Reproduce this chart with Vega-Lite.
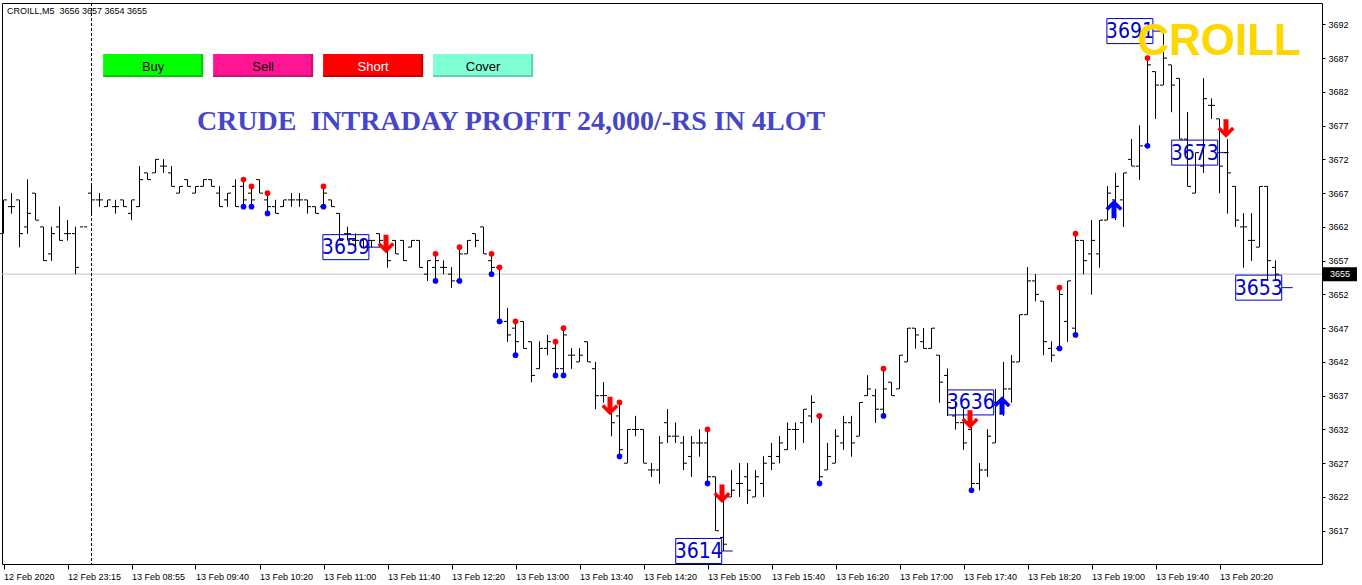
{
"$schema": "https://vega.github.io/schema/vega-lite/v6.json",
"width": 1320, "height": 561,
"autosize": {"type": "none"},
"padding": {"left": 2, "top": 3, "right": 40, "bottom": 21},
"background": "white",
"config": {"view": {"stroke": "black", "strokeWidth": 1}, "font": "Liberation Sans", "axis": {"labelOverlap": false}},
"resolve": {"scale": {"color": "independent", "shape": "independent"}},
"datasets": {
"bars": [
{"i":0,"o":3661,"h":3666,"l":3661,"c":3666},{"i":1,"o":3665,"h":3667,"l":3664,"c":3665},{"i":2,"o":3666,"h":3666,"l":3659,"c":3661},{"i":3,"o":3662,"h":3669,"l":3661,"c":3664},{"i":4,"o":3667,"h":3667,"l":3663,"c":3663},
{"i":5,"o":3662,"h":3662,"l":3657,"c":3657},{"i":6,"o":3658,"h":3662,"l":3657,"c":3661},{"i":7,"o":3662,"h":3665,"l":3660,"c":3660},{"i":8,"o":3661,"h":3663,"l":3660,"c":3661},{"i":9,"o":3661,"h":3662,"l":3655,"c":3656},
{"i":10,"o":3662,"h":3662,"l":3662,"c":3662},{"i":11,"o":3667,"h":3668,"l":3664,"c":3666},{"i":12,"o":3666,"h":3667,"l":3665,"c":3666},{"i":13,"o":3665,"h":3666,"l":3665,"c":3666},{"i":14,"o":3665,"h":3666,"l":3664,"c":3665},
{"i":15,"o":3666,"h":3666,"l":3665,"c":3665},{"i":16,"o":3664,"h":3666,"l":3663,"c":3666},{"i":17,"o":3665,"h":3671,"l":3665,"c":3669},{"i":18,"o":3670,"h":3670,"l":3669,"c":3669},{"i":19,"o":3670,"h":3672,"l":3670,"c":3672},
{"i":20,"o":3671,"h":3672,"l":3670,"c":3671},{"i":21,"o":3670,"h":3671,"l":3668,"c":3668},{"i":22,"o":3667,"h":3668,"l":3667,"c":3668},{"i":23,"o":3669,"h":3669,"l":3668,"c":3668},{"i":24,"o":3667,"h":3668,"l":3667,"c":3668},
{"i":25,"o":3668,"h":3669,"l":3668,"c":3669},{"i":26,"o":3669,"h":3669,"l":3668,"c":3668},{"i":27,"o":3667,"h":3668,"l":3665,"c":3665},{"i":28,"o":3666,"h":3667,"l":3665,"c":3667},{"i":29,"o":3668,"h":3669,"l":3665,"c":3665},
{"i":30,"o":3668,"h":3669,"l":3665,"c":3666},{"i":31,"o":3667,"h":3668,"l":3665,"c":3666},{"i":32,"o":3669,"h":3669,"l":3667,"c":3667},{"i":33,"o":3666,"h":3667,"l":3664,"c":3665},{"i":34,"o":3665,"h":3666,"l":3664,"c":3664},
{"i":35,"o":3665,"h":3666,"l":3665,"c":3666},{"i":36,"o":3666,"h":3667,"l":3665,"c":3666},{"i":37,"o":3666,"h":3667,"l":3665,"c":3666},{"i":38,"o":3666,"h":3666,"l":3664,"c":3665},{"i":39,"o":3665,"h":3665,"l":3664,"c":3664},
{"i":40,"o":3665,"h":3668,"l":3665,"c":3667},{"i":41,"o":3666,"h":3666,"l":3665,"c":3665},{"i":42,"o":3664,"h":3664,"l":3660,"c":3660},{"i":43,"o":3661,"h":3662,"l":3660,"c":3661},{"i":44,"o":3660,"h":3661,"l":3659,"c":3660},
{"i":45,"o":3660,"h":3660,"l":3659,"c":3659},{"i":46,"o":3660,"h":3660,"l":3659,"c":3660},{"i":47,"o":3661,"h":3661,"l":3659,"c":3660},{"i":48,"o":3660,"h":3660,"l":3656,"c":3657},{"i":49,"o":3660,"h":3660,"l":3658,"c":3658},
{"i":50,"o":3660,"h":3660,"l":3657,"c":3657},{"i":51,"o":3659,"h":3660,"l":3659,"c":3660},{"i":52,"o":3660,"h":3660,"l":3656,"c":3656},{"i":53,"o":3655,"h":3657,"l":3654,"c":3657},{"i":54,"o":3656,"h":3658,"l":3654,"c":3657},
{"i":55,"o":3656,"h":3657,"l":3655,"c":3656},{"i":56,"o":3655,"h":3656,"l":3653,"c":3654},{"i":57,"o":3654,"h":3659,"l":3654,"c":3658},{"i":58,"o":3658,"h":3660,"l":3658,"c":3660},{"i":59,"o":3661,"h":3661,"l":3659,"c":3660},
{"i":60,"o":3662,"h":3662,"l":3658,"c":3658},{"i":61,"o":3657,"h":3658,"l":3655,"c":3656},{"i":62,"o":3656,"h":3656,"l":3648,"c":3648},{"i":63,"o":3648,"h":3650,"l":3645,"c":3646},{"i":64,"o":3647,"h":3648,"l":3643,"c":3645},
{"i":65,"o":3648,"h":3648,"l":3644,"c":3644},{"i":66,"o":3645,"h":3645,"l":3639,"c":3640},{"i":67,"o":3641,"h":3645,"l":3641,"c":3644},{"i":68,"o":3644,"h":3646,"l":3643,"c":3645},{"i":69,"o":3644,"h":3645,"l":3640,"c":3641},
{"i":70,"o":3641,"h":3647,"l":3640,"c":3646},{"i":71,"o":3643,"h":3644,"l":3641,"c":3643},{"i":72,"o":3642,"h":3644,"l":3642,"c":3643},{"i":73,"o":3645,"h":3645,"l":3642,"c":3642},{"i":74,"o":3641,"h":3642,"l":3635,"c":3637},
{"i":75,"o":3637,"h":3639,"l":3636,"c":3637},{"i":76,"o":3636,"h":3636,"l":3631,"c":3633},{"i":77,"o":3634,"h":3636,"l":3628,"c":3629},{"i":78,"o":3627,"h":3632,"l":3627,"c":3632},{"i":79,"o":3632,"h":3634,"l":3631,"c":3632},
{"i":80,"o":3632,"h":3632,"l":3627,"c":3627},{"i":81,"o":3626,"h":3627,"l":3625,"c":3626},{"i":82,"o":3626,"h":3631,"l":3624,"c":3630},{"i":83,"o":3633,"h":3635,"l":3630,"c":3631},{"i":84,"o":3631,"h":3633,"l":3630,"c":3631},
{"i":85,"o":3630,"h":3631,"l":3626,"c":3627},{"i":86,"o":3628,"h":3631,"l":3625,"c":3630},{"i":87,"o":3630,"h":3632,"l":3628,"c":3630},{"i":88,"o":3630,"h":3632,"l":3624,"c":3625},{"i":89,"o":3625,"h":3625,"l":3617,"c":3617},
{"i":90,"o":3616,"h":3622,"l":3614,"c":3615},{"i":91,"o":3622,"h":3626,"l":3622,"c":3623},{"i":92,"o":3624,"h":3627,"l":3622,"c":3624},{"i":93,"o":3625,"h":3627,"l":3621,"c":3623},{"i":94,"o":3622,"h":3626,"l":3622,"c":3625},
{"i":95,"o":3624,"h":3628,"l":3622,"c":3627},{"i":96,"o":3628,"h":3630,"l":3626,"c":3627},{"i":97,"o":3628,"h":3631,"l":3627,"c":3630},{"i":98,"o":3629,"h":3633,"l":3629,"c":3632},{"i":99,"o":3632,"h":3633,"l":3629,"c":3632},
{"i":100,"o":3633,"h":3635,"l":3630,"c":3635},{"i":101,"o":3634,"h":3637,"l":3633,"c":3636},{"i":102,"o":3634,"h":3634,"l":3624,"c":3625},{"i":103,"o":3626,"h":3630,"l":3626,"c":3628},{"i":104,"o":3627,"h":3632,"l":3627,"c":3631},
{"i":105,"o":3630,"h":3634,"l":3629,"c":3633},{"i":106,"o":3633,"h":3634,"l":3628,"c":3630},{"i":107,"o":3631,"h":3636,"l":3631,"c":3636},{"i":108,"o":3637,"h":3640,"l":3637,"c":3638},{"i":109,"o":3637,"h":3638,"l":3633,"c":3635},
{"i":110,"o":3635,"h":3641,"l":3634,"c":3638},{"i":111,"o":3639,"h":3639,"l":3637,"c":3637},{"i":112,"o":3638,"h":3643,"l":3638,"c":3643},{"i":113,"o":3642,"h":3647,"l":3642,"c":3647},{"i":114,"o":3647,"h":3647,"l":3644,"c":3646},
{"i":115,"o":3645,"h":3647,"l":3644,"c":3644},{"i":116,"o":3644,"h":3647,"l":3644,"c":3647},{"i":117,"o":3643,"h":3643,"l":3636,"c":3639},{"i":118,"o":3640,"h":3641,"l":3634,"c":3636},{"i":119,"o":3634,"h":3636,"l":3632,"c":3633},
{"i":120,"o":3633,"h":3635,"l":3629,"c":3630},{"i":121,"o":3632,"h":3633,"l":3623,"c":3624},{"i":122,"o":3624,"h":3627,"l":3623,"c":3626},{"i":123,"o":3626,"h":3632,"l":3625,"c":3631},{"i":124,"o":3630,"h":3638,"l":3630,"c":3636},
{"i":125,"o":3636,"h":3642,"l":3634,"c":3638},{"i":126,"o":3638,"h":3643,"l":3636,"c":3642},{"i":127,"o":3642,"h":3649,"l":3642,"c":3649},{"i":128,"o":3649,"h":3656,"l":3649,"c":3654},{"i":129,"o":3654,"h":3655,"l":3651,"c":3652},
{"i":130,"o":3651,"h":3651,"l":3643,"c":3645},{"i":131,"o":3644,"h":3645,"l":3642,"c":3643},{"i":132,"o":3644,"h":3653,"l":3644,"c":3652},{"i":133,"o":3648,"h":3654,"l":3645,"c":3654},{"i":134,"o":3647,"h":3661,"l":3646,"c":3660},
{"i":135,"o":3660,"h":3660,"l":3655,"c":3657},{"i":136,"o":3658,"h":3663,"l":3652,"c":3660},{"i":137,"o":3658,"h":3663,"l":3656,"c":3663},{"i":138,"o":3663,"h":3668,"l":3663,"c":3667},{"i":139,"o":3666,"h":3670,"l":3663,"c":3668},
{"i":140,"o":3666,"h":3670,"l":3662,"c":3670},{"i":141,"o":3672,"h":3675,"l":3671,"c":3671},{"i":142,"o":3671,"h":3677,"l":3669,"c":3674},{"i":143,"o":3674,"h":3687,"l":3674,"c":3686},{"i":144,"o":3685,"h":3685,"l":3678,"c":3683},
{"i":145,"o":3683,"h":3691,"l":3683,"c":3687},{"i":146,"o":3686,"h":3686,"l":3679,"c":3683},{"i":147,"o":3684,"h":3684,"l":3675,"c":3675},{"i":148,"o":3675,"h":3679,"l":3668,"c":3668},{"i":149,"o":3667,"h":3673,"l":3667,"c":3673},
{"i":150,"o":3671,"h":3684,"l":3670,"c":3681},{"i":151,"o":3680,"h":3681,"l":3678,"c":3680},{"i":152,"o":3678,"h":3678,"l":3667,"c":3671},{"i":153,"o":3673,"h":3675,"l":3664,"c":3670},{"i":154,"o":3668,"h":3668,"l":3662,"c":3663},
{"i":155,"o":3662,"h":3664,"l":3656,"c":3662},{"i":156,"o":3660,"h":3664,"l":3657,"c":3660},{"i":157,"o":3659,"h":3668,"l":3659,"c":3668},{"i":158,"o":3668,"h":3668,"l":3654,"c":3657},{"i":159,"o":3656,"h":3657,"l":3654,"c":3655}
],
"dots": [
{"i":30,"p":3669,"side":"high"},{"i":31,"p":3668,"side":"high"},{"i":33,"p":3667,"side":"high"},{"i":40,"p":3668,"side":"high"},{"i":54,"p":3658,"side":"high"},{"i":57,"p":3659,"side":"high"},{"i":61,"p":3658,"side":"high"},{"i":62,"p":3656,"side":"high"},{"i":64,"p":3648,"side":"high"},{"i":69,"p":3645,"side":"high"},{"i":70,"p":3647,"side":"high"},{"i":77,"p":3636,"side":"high"},{"i":88,"p":3632,"side":"high"},{"i":102,"p":3634,"side":"high"},{"i":110,"p":3641,"side":"high"},{"i":132,"p":3653,"side":"high"},{"i":134,"p":3661,"side":"high"},{"i":143,"p":3687,"side":"high"},
{"i":30,"p":3665,"side":"low"},{"i":31,"p":3665,"side":"low"},{"i":33,"p":3664,"side":"low"},{"i":40,"p":3665,"side":"low"},{"i":54,"p":3654,"side":"low"},{"i":57,"p":3654,"side":"low"},{"i":61,"p":3655,"side":"low"},{"i":62,"p":3648,"side":"low"},{"i":64,"p":3643,"side":"low"},{"i":69,"p":3640,"side":"low"},{"i":70,"p":3640,"side":"low"},{"i":77,"p":3628,"side":"low"},{"i":88,"p":3624,"side":"low"},{"i":102,"p":3624,"side":"low"},{"i":110,"p":3634,"side":"low"},{"i":121,"p":3623,"side":"low"},{"i":132,"p":3644,"side":"low"},{"i":134,"p":3646,"side":"low"},{"i":143,"p":3674,"side":"low"}
],
"arrows": [
{"i":48,"p":3659.5,"dir":"down"},{"i":76,"p":3635.5,"dir":"down"},{"i":90,"p":3622.5,"dir":"down"},{"i":121,"p":3633.5,"dir":"down"},{"i":153,"p":3676.6,"dir":"down"},
{"i":125,"p":3635.5,"dir":"up"},{"i":139,"p":3664.6,"dir":"up"}
],
"labels": [
{"i":42.8,"p":3659,"label":"3659"},{"i":86.9,"p":3614,"label":"3614"},{"i":120.9,"p":3636,"label":"3636"},{"i":140.8,"p":3691,"label":"3691"},{"i":148.9,"p":3673,"label":"3673"},{"i":156.9,"p":3653,"label":"3653"}
],
"buttons": [
{"i":18.7,"p":3685.9,"label":"Buy"},{"i":32.45,"p":3685.9,"label":"Sell"},{"i":46.2,"p":3685.9,"label":"Short"},{"i":59.95,"p":3685.9,"label":"Cover"}
]
},
"layer": [
{
"data": {"name": "bars"},
"mark": {"type": "rule", "color": "black", "strokeWidth": 1},
"encoding": {
"x": {"field": "i", "type": "quantitative", "title": null, "scale": {"domain": [-0.1875, 164.8125], "nice": false, "zero": false},
"axis": {"orient": "bottom", "values": [0,8,16,24,32,40,48,56,64,72,80,88,96,104,112,120,128,136,144,152], "tickCount": 40, "labelExpr": "['12 Feb 2020','12 Feb 23:15','13 Feb 08:55','13 Feb 09:40','13 Feb 10:20','13 Feb 11:00','13 Feb 11:40','13 Feb 12:20','13 Feb 13:00','13 Feb 13:40','13 Feb 14:20','13 Feb 15:00','13 Feb 15:40','13 Feb 16:20','13 Feb 17:00','13 Feb 17:40','13 Feb 18:20','13 Feb 19:00','13 Feb 19:40','13 Feb 20:20'][round(datum.value/8)]", "grid": false, "domain": false, "ticks": true, "tickColor": "black", "tickSize": 5, "labelAlign": "left", "labelDx": -1, "labelPadding": 3, "labelFont": "Liberation Sans", "labelFontSize": 9, "labelColor": "black", "labelOverlap": false, "labelFlush": false, "labelBound": false, "title": null}},
"y": {"field": "l", "type": "quantitative", "title": null, "scale": {"domain": [3612.07, 3695.16], "nice": false, "zero": false},
"axis": {"orient": "right", "values": [3617,3622,3627,3632,3637,3642,3647,3652,3657,3662,3667,3672,3677,3682,3687,3692], "tickCount": 40, "format": "d", "grid": false, "domain": false, "tickColor": "black", "tickSize": 3, "labelPadding": 3, "labelFont": "Liberation Sans", "labelFontSize": 9, "labelColor": "black", "labelOverlap": false, "labelFlush": false, "labelBound": false, "title": null}},
"y2": {"field": "h"}
}
},
{
"data": {"values": [{"p": 3655}]},
"mark": {"type": "rule", "color": "#c0c0c0", "strokeWidth": 1},
"encoding": {"y": {"field": "p", "type": "quantitative", "title": null, "scale": {"domain": [3612.07, 3695.16], "nice": false, "zero": false}}}
},
{
"data": {"values": [{"i": 11}]},
"mark": {"type": "rule", "color": "black", "strokeWidth": 1, "strokeDash": [3, 2]},
"encoding": {"x": {"field": "i", "type": "quantitative", "title": null, "scale": {"domain": [-0.1875, 164.8125], "nice": false, "zero": false}}}
},
{
"data": {"name": "labels"},
"mark": {"type": "point", "shape": "M-23,-12.5L23,-12.5L23,12.5L-23,12.5Z M23,0L34,0", "size": 4, "filled": false, "stroke": "#0000CD", "strokeWidth": 1, "opacity": 1},
"encoding": {
"x": {"field": "i", "type": "quantitative", "title": null, "scale": {"domain": [-0.1875, 164.8125], "nice": false, "zero": false}},
"y": {"field": "p", "type": "quantitative", "title": null, "scale": {"domain": [3612.07, 3695.16], "nice": false, "zero": false}}
}
},
{
"data": {"name": "bars"},
"mark": {"type": "rule", "color": "black", "strokeWidth": 1},
"encoding": {
"x": {"field": "i", "type": "quantitative", "title": null, "scale": {"domain": [-0.1875, 164.8125], "nice": false, "zero": false}},
"y": {"field": "l", "type": "quantitative", "title": null, "scale": {"domain": [3612.07, 3695.16], "nice": false, "zero": false}},
"y2": {"field": "h"}
}
},
{
"data": {"name": "bars"},
"mark": {"type": "tick", "orient": "horizontal", "color": "black", "size": 3, "thickness": 1, "xOffset": -2, "opacity": 1},
"encoding": {
"x": {"field": "i", "type": "quantitative", "title": null, "scale": {"domain": [-0.1875, 164.8125], "nice": false, "zero": false}},
"y": {"field": "o", "type": "quantitative", "title": null, "scale": {"domain": [3612.07, 3695.16], "nice": false, "zero": false}}
}
},
{
"data": {"name": "bars"},
"mark": {"type": "tick", "orient": "horizontal", "color": "black", "size": 3, "thickness": 1, "xOffset": 2, "opacity": 1},
"encoding": {
"x": {"field": "i", "type": "quantitative", "title": null, "scale": {"domain": [-0.1875, 164.8125], "nice": false, "zero": false}},
"y": {"field": "c", "type": "quantitative", "title": null, "scale": {"domain": [3612.07, 3695.16], "nice": false, "zero": false}}
}
},
{
"data": {"name": "labels"},
"mark": {"type": "text", "font": "DejaVu Sans Condensed, Liberation Sans", "fontSize": 21, "color": "#0000CD", "align": "center", "baseline": "middle", "dy": 1},
"encoding": {
"x": {"field": "i", "type": "quantitative", "title": null, "scale": {"domain": [-0.1875, 164.8125], "nice": false, "zero": false}},
"y": {"field": "p", "type": "quantitative", "title": null, "scale": {"domain": [3612.07, 3695.16], "nice": false, "zero": false}},
"text": {"field": "label"}
}
},
{
"data": {"name": "dots"},
"mark": {"type": "point", "shape": "circle", "filled": true, "size": 32, "opacity": 1},
"encoding": {
"x": {"field": "i", "type": "quantitative", "title": null, "scale": {"domain": [-0.1875, 164.8125], "nice": false, "zero": false}},
"y": {"field": "p", "type": "quantitative", "title": null, "scale": {"domain": [3612.07, 3695.16], "nice": false, "zero": false}},
"color": {"field": "side", "type": "nominal", "scale": {"domain": ["high", "low"], "range": ["#ff0000", "#0000ff"]}, "legend": null}
}
},
{
"data": {"name": "arrows"},
"mark": {"type": "point", "filled": true, "size": 4, "opacity": 1, "xOffset": -1.5},
"encoding": {
"x": {"field": "i", "type": "quantitative", "title": null, "scale": {"domain": [-0.1875, 164.8125], "nice": false, "zero": false}},
"y": {"field": "p", "type": "quantitative", "title": null, "scale": {"domain": [3612.07, 3695.16], "nice": false, "zero": false}},
"shape": {"field": "dir", "type": "nominal", "scale": {"domain": ["down", "up"], "range": ["M-2.5,-9L2.5,-9L2.5,2L6,-1.5L8.5,1L0,9.5L-8.5,1L-6,-1.5L-2.5,2Z", "M-2.5,9L2.5,9L2.5,-2L6,1.5L8.5,-1L0,-9.5L-8.5,-1L-6,1.5L-2.5,-2Z"]}, "legend": null},
"color": {"field": "dir", "type": "nominal", "scale": {"domain": ["down", "up"], "range": ["#ff0000", "#0000ff"]}, "legend": null}
}
},
{
"data": {"name": "buttons"},
"mark": {"type": "point", "shape": "M-50,-11.5L50,-11.5L50,11.5L-50,11.5Z", "filled": true, "size": 4, "opacity": 1},
"encoding": {
"x": {"field": "i", "type": "quantitative", "title": null, "scale": {"domain": [-0.1875, 164.8125], "nice": false, "zero": false}},
"y": {"field": "p", "type": "quantitative", "title": null, "scale": {"domain": [3612.07, 3695.16], "nice": false, "zero": false}},
"color": {"field": "label", "type": "nominal", "scale": {"domain": ["Buy", "Sell", "Short", "Cover"], "range": ["#00ff00", "#ff1493", "#ff0000", "#7fffd4"]}, "legend": null}
}
},
{
"data": {"name": "buttons"},
"mark": {"type": "point", "shape": "M48,-11.5L50,-11.5L50,11.5L-50,11.5L-50,9.5L48,9.5Z", "filled": true, "size": 4, "opacity": 1},
"encoding": {
"x": {"field": "i", "type": "quantitative", "title": null, "scale": {"domain": [-0.1875, 164.8125], "nice": false, "zero": false}},
"y": {"field": "p", "type": "quantitative", "title": null, "scale": {"domain": [3612.07, 3695.16], "nice": false, "zero": false}},
"color": {"field": "label", "type": "nominal", "scale": {"domain": ["Buy", "Sell", "Short", "Cover"], "range": ["#00cc00", "#cc1076", "#cc0000", "#5fd0b0"]}, "legend": null}
}
},
{
"data": {"name": "buttons"},
"mark": {"type": "text", "font": "Liberation Sans", "fontSize": 13, "align": "center", "baseline": "middle", "dy": 1},
"encoding": {
"x": {"field": "i", "type": "quantitative", "title": null, "scale": {"domain": [-0.1875, 164.8125], "nice": false, "zero": false}},
"y": {"field": "p", "type": "quantitative", "title": null, "scale": {"domain": [3612.07, 3695.16], "nice": false, "zero": false}},
"text": {"field": "label"},
"color": {"field": "label", "type": "nominal", "scale": {"domain": ["Buy", "Sell", "Short", "Cover"], "range": ["#000000", "#000000", "#ffffff", "#000000"]}, "legend": null}
}
},
{
"data": {"values": [{"i": 63.44, "p": 3677.6, "t": "CRUDE\u00a0 INTRADAY PROFIT 24,000/-RS IN 4LOT"}]},
"mark": {"type": "text", "font": "Liberation Serif", "fontWeight": "bold", "fontSize": 28, "color": "#4646c8", "align": "center", "baseline": "middle"},
"encoding": {
"x": {"field": "i", "type": "quantitative", "title": null, "scale": {"domain": [-0.1875, 164.8125], "nice": false, "zero": false}},
"y": {"field": "p", "type": "quantitative", "title": null, "scale": {"domain": [3612.07, 3695.16], "nice": false, "zero": false}},
"text": {"field": "t"}
}
},
{
"data": {"values": [{"i": 151.94, "p": 3689.45, "t": "CROILL"}]},
"mark": {"type": "text", "font": "Liberation Sans", "fontWeight": "bold", "fontSize": 44, "color": "#ffd700", "align": "center", "baseline": "middle"},
"encoding": {
"x": {"field": "i", "type": "quantitative", "title": null, "scale": {"domain": [-0.1875, 164.8125], "nice": false, "zero": false}},
"y": {"field": "p", "type": "quantitative", "title": null, "scale": {"domain": [3612.07, 3695.16], "nice": false, "zero": false}},
"text": {"field": "t"}
}
},
{
"data": {"values": [{"i": 0.44, "p": 3693.97, "t": "CROILL,M5\u00a0 3656 3657 3654 3655"}]},
"mark": {"type": "text", "font": "Liberation Sans", "fontSize": 9, "color": "black", "align": "left", "baseline": "middle"},
"encoding": {
"x": {"field": "i", "type": "quantitative", "title": null, "scale": {"domain": [-0.1875, 164.8125], "nice": false, "zero": false}},
"y": {"field": "p", "type": "quantitative", "title": null, "scale": {"domain": [3612.07, 3695.16], "nice": false, "zero": false}},
"text": {"field": "t"}
}
},
{
"data": {"values": [{"i": 167.06, "p": 3655}]},
"mark": {"type": "point", "shape": "M-17,-7L17,-7L17,7L-17,7Z", "filled": true, "size": 4, "opacity": 1, "color": "black"},
"encoding": {
"x": {"field": "i", "type": "quantitative", "title": null, "scale": {"domain": [-0.1875, 164.8125], "nice": false, "zero": false}},
"y": {"field": "p", "type": "quantitative", "title": null, "scale": {"domain": [3612.07, 3695.16], "nice": false, "zero": false}}
}
},
{
"data": {"values": [{"i": 167.06, "p": 3655, "t": "3655"}]},
"mark": {"type": "text", "font": "Liberation Sans", "fontSize": 9, "color": "white", "align": "center", "baseline": "middle"},
"encoding": {
"x": {"field": "i", "type": "quantitative", "title": null, "scale": {"domain": [-0.1875, 164.8125], "nice": false, "zero": false}},
"y": {"field": "p", "type": "quantitative", "title": null, "scale": {"domain": [3612.07, 3695.16], "nice": false, "zero": false}},
"text": {"field": "t"}
}
}
]
}
